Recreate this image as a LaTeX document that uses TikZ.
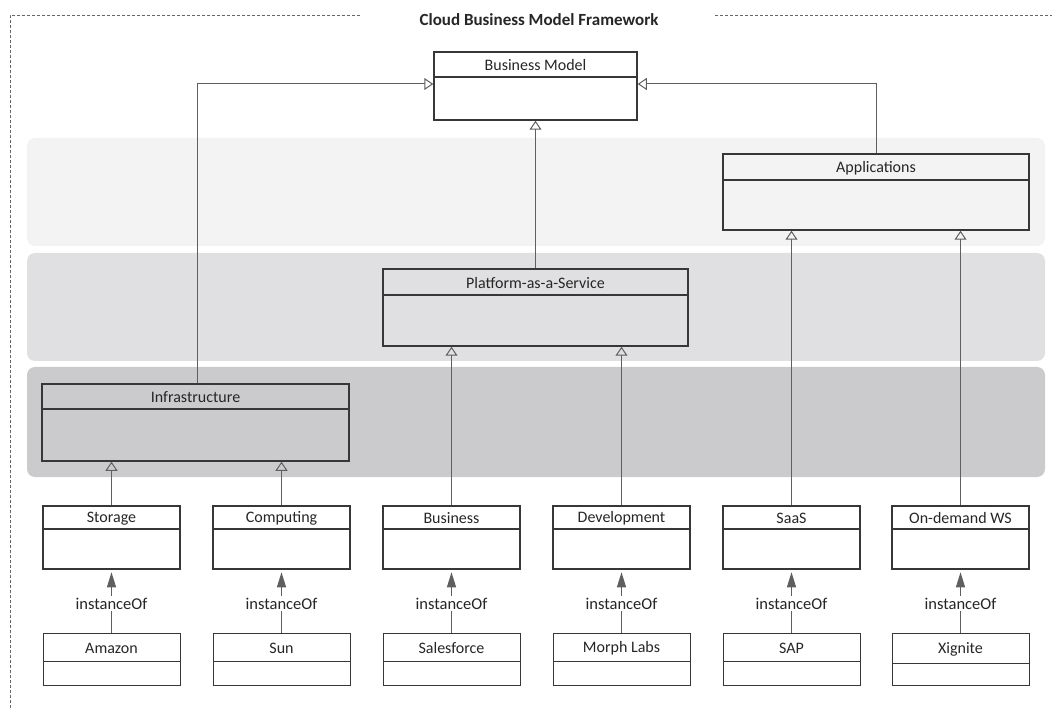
\documentclass[tikz,border=0pt]{standalone}
\usepackage{fontspec}
\setmainfont{Carlito}
\usetikzlibrary{arrows.meta}
\definecolor{bandA}{RGB}{243,243,244}
\definecolor{bandB}{RGB}{224,224,226}
\definecolor{bandC}{RGB}{203,203,205}
\definecolor{boxline}{RGB}{55,55,55}
\definecolor{linkline}{RGB}{95,95,95}
\tikzset{
  band/.style={fill=#1, draw=none, rounded corners=8pt},
  boxst/.style={draw=boxline, line width=1.5pt, rectangle, inner sep=0pt},
  divst/.style={draw=boxline, line width=1.2pt},
  lblst/.style={font=\fontsize{16}{18}\selectfont, text=black!85, inner sep=0pt},
  gen/.style={draw=linkline, line width=1pt, -{Triangle[open, width=12pt, length=9pt, line width=1pt]}},
  inst/.style={draw=linkline, line width=1.2pt, -{Triangle[width=9pt, length=15pt]}, shorten >=2.5pt},
  instlbl/.style={font=\fontsize{16.5}{18}\selectfont, text=black!85, fill=white, inner sep=2pt},
  frame/.style={draw=black!60, line width=0.8pt, dash pattern=on 3pt off 2pt}
}
% name, x1, y1, x2, y2, divider y, title
\newcommand\classbox[7]{%
  \node[boxst, minimum width={#4-#2}, minimum height={#5-#3}] (#1) at ({(#2+#4)/2},{(#3+#5)/2}) {};
  \draw[divst] (#2,#6) -- (#4,#6);
  \node[lblst] (#1-t) at ({(#2+#4)/2},{(#3+#6)/2+1}) {#7};
}
\begin{document}
\begin{tikzpicture}[x=1pt, y=-1pt]
\useasboundingbox (0,0) rectangle (1052,708);

% outer dashed frame and title
\draw[frame] (360,15) -- (10,15) -- (10,712);
\draw[frame] (715,15) -- (1056,15);
\node[font=\fontsize{17}{19}\selectfont\bfseries, text=black!85] (title) at (539,20) {Cloud Business Model Framework};

% layer bands
\fill[band=bandA] (27,138) rectangle (1045,246);
\fill[band=bandB] (27,253) rectangle (1045,361);
\fill[band=bandC] (27,367) rectangle (1045,477);

% classes
\classbox{bm}{434}{52}{637}{120}{77}{Business Model}
\classbox{app}{723}{154}{1029}{230}{180}{Applications}
\classbox{paas}{383}{269}{688}{346}{295}{Platform-as-a-Service}
\classbox{infra}{42}{384}{349}{461}{409}{Infrastructure}

\classbox{stor}{43}{506}{180}{569}{529}{Storage}
\classbox{comp}{213}{506}{350}{569}{529}{Computing}
\classbox{busi}{383}{506}{520}{569}{529}{Business}
\classbox{dev}{553}{506}{690}{569}{529}{Development}
\classbox{saas}{723}{506}{860}{569}{529}{SaaS}
\classbox{odws}{892}{506}{1029}{569}{529}{On-demand WS}

% instances
\tikzset{boxst/.append style={line width=1pt}, divst/.append style={line width=1pt}}
\classbox{amz}{43}{633}{180}{685}{661}{Amazon}
\classbox{sun}{213}{633}{350}{685}{661}{Sun}
\classbox{sf}{383}{633}{520}{685}{661}{Salesforce}
\classbox{ml}{553}{633}{690}{685}{661}{Morph Labs}
\classbox{sap}{723}{633}{860}{685}{661}{SAP}
\classbox{xig}{892}{633}{1029}{685}{663}{Xignite}

% generalisations towards the business model
\draw[gen] ([xshift=1.5pt]infra.north) |- ([yshift=2pt]bm.west);
\draw[gen] (paas.north) -- (bm.south);
\draw[gen] (app.north) |- ([yshift=2pt]bm.east);

% generalisations between layers
\draw[gen] (stor.north) -- (stor.north |- infra.south);
\draw[gen] (comp.north) -- (comp.north |- infra.south);
\draw[gen] (busi.north) -- (busi.north |- paas.south);
\draw[gen] (dev.north) -- (dev.north |- paas.south);
\draw[gen] (saas.north) -- (saas.north |- app.south);
\draw[gen] (odws.north) -- (odws.north |- app.south);

% instanceOf relations
\foreach \i/\c in {amz/stor, sun/comp, sf/busi, ml/dev, sap/saas, xig/odws}{
  \draw[inst] (\i.north) -- node[instlbl, pos=0.46] (\i-lbl) {instanceOf} (\c.south);
}
\end{tikzpicture}
\end{document}
